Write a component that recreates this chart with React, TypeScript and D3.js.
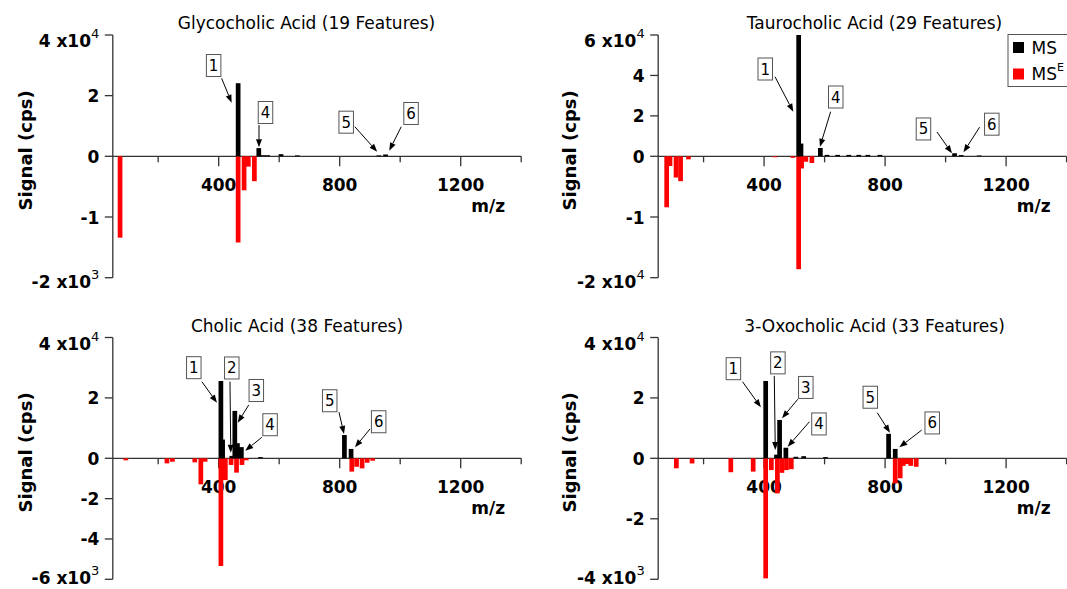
import React, { useRef, useEffect } from 'react';
import * as d3 from 'd3';

// Glycocholic acid: MS (up) and MS^E (down), m/z and signal in cps
const gcaMsMz = [464.3, 532.6, 548, 562, 606, 660, 929.6, 951.6];
const gcaMsSignal = [24100, 2700, 350, 350, 700, 300, 300, 600];
const gcaMseMz = [74, 464.3, 484, 498, 518];
const gcaMseSignal = [1340, 1420, 560, 170, 410];

// Taurocholic acid
const tcaMsMz = [514.3, 522, 586, 608, 643, 680, 713, 743, 783, 1029.6, 1051.6, 1111];
const tcaMsSignal = [60000, 6300, 4100, 700, 700, 700, 700, 700, 700, 1500, 600, 400];
const tcaMseMz = [78, 89, 109, 124, 150, 436, 495, 514.3, 524, 538, 558];
const tcaMseSignal = [8400, 1600, 3500, 4100, 500, 150, 250, 18600, 2000, 900, 1100];

// Cholic acid
const caMsMz = [407.3, 413, 443.3, 453.3, 462, 475, 538, 815.6, 837.6];
const caMsSignal = [25600, 6200, 800, 15700, 5000, 3700, 400, 7700, 3100];
const caMseMz = [93, 229, 247, 321, 341, 355, 407.3, 422, 441, 459, 477, 491, 840, 856, 874, 891, 909];
const caMseSignal = [100, 250, 170, 200, 1290, 170, 5340, 1080, 330, 710, 330, 100, 660, 420, 500, 220, 120];

// 3-Oxocholic acid
const ocaMsMz = [405.3, 441, 451.3, 472, 505, 531, 603, 811.6, 833.5];
const ocaMsSignal = [25600, 1200, 12700, 3500, 500, 700, 400, 8100, 3100];
const ocaMseMz = [110, 162, 290, 364, 405.3, 424, 444, 459, 474, 490, 833.5, 850, 860, 872, 885, 903];
const ocaMseSignal = [330, 170, 460, 440, 3970, 390, 1160, 480, 390, 360, 830, 660, 250, 190, 250, 280];

// axis ticks
const mzTicks = [200, 400, 600, 800, 1000, 1200, 1400];
const mzLabelled = [400, 800, 1200];

const gcaYTicks = [40000, 20000, 0, -1000, -2000];
const gcaYLabels = ['4 x10', '2', '0', '-1', '-2 x10'];
const gcaYSup = ['4', '', '', '', '3'];

const tcaYTicks = [60000, 40000, 20000, 0, -10000, -20000];
const tcaYLabels = ['6 x10', '4', '2', '0', '-1', '-2 x10'];
const tcaYSup = ['4', '', '', '', '', '4'];

const caYTicks = [40000, 20000, 0, -2000, -4000, -6000];
const caYLabels = ['4 x10', '2', '0', '-2', '-4', '-6 x10'];
const caYSup = ['4', '', '', '', '', '3'];

const ocaYTicks = [40000, 20000, 0, -2000, -4000];
const ocaYLabels = ['4 x10', '2', '0', '-2', '-4 x10'];
const ocaYSup = ['4', '', '', '', '3'];

// numbered callouts: offsets (px) from the top of the MS bar they mark
const gcaCallouts = [
  { n: '1', mz: 464.3, box: [-24.5, -17.7], from: [-16.5, -4.9], to: [-6.5, 19.5] },
  { n: '4', mz: 532.6, box: [6.7, -35.6], from: [0.2, -23.1], to: [0.2, -0.8] },
  { n: '5', mz: 929.6, box: [-32.7, -33.2], from: [-24.1, -28.7], to: [-1.7, -3.7] },
  { n: '6', mz: 951.6, box: [25.5, -41], from: [15.7, -27.8], to: [3.7, -3.8] },
];
const tcaCallouts = [
  { n: '1', mz: 514.3, box: [-33.4, 34], from: [-23.7, 41.7], to: [-5.4, 76.7] },
  { n: '4', mz: 586, box: [15.4, -51], from: [10.3, -36.3], to: [-0.4, -1.3] },
  { n: '5', mz: 1029.6, box: [-31.1, -24.3], from: [-17.6, -21.3], to: [-2.6, 0] },
  { n: '6', mz: 1051.6, box: [30.6, -30.9], from: [18.4, -27.9], to: [2.3, -2.8] },
];
const caCallouts = [
  { n: '1', mz: 407.3, box: [-27.1, -13.3], from: [-19, 0.7], to: [-3.9, 21.7] },
  { n: '2', mz: 443.3, box: [0, -87.9], from: [-1.8, -74.2], to: [-1, -3.2] },
  { n: '3', mz: 453.3, box: [21.5, -20.4], from: [13.9, -5.9], to: [2.9, 11.8] },
  { n: '4', mz: 475, box: [28.7, -22.4], from: [20.4, -9.8], to: [3.9, 3.6] },
  { n: '5', mz: 815.6, box: [-14.7, -34.3], from: [-5.4, -22.8], to: [-0.4, -1.1] },
  { n: '6', mz: 837.6, box: [27.6, -27.2], from: [18.9, -19.9], to: [3.9, -1.6] },
];
const ocaCallouts = [
  { n: '1', mz: 405.3, box: [-32.3, -12.3], from: [-23.2, 0.7], to: [-4.8, 26.3] },
  { n: '2', mz: 441, box: [1.4, -91.8], from: [-2.2, -78.7], to: [-1.2, -4.7] },
  { n: '3', mz: 451.3, box: [26.2, -32.5], from: [18.2, -20.7], to: [2.4, -1.7] },
  { n: '4', mz: 472, box: [33.1, -23.8], from: [23.6, -26], to: [1.8, -1] },
  { n: '5', mz: 811.6, box: [-18.3, -36.6], from: [-11.3, -21.1], to: [1.4, -1.1] },
  { n: '6', mz: 833.5, box: [37, -26], from: [26.5, -18.9], to: [4.1, -1.6] },
];

const FONT = 'DejaVu Sans';

const panels = [
  {
    title: 'Glycocholic Acid (19 Features)', titleX: 306.5, yLabelX: 25,
    xRange: [112.8, 521.2], top: 35, zero: 156.3, bottom: 277.7, posMax: 40000, negMin: -2000,
    msMz: gcaMsMz, msSig: gcaMsSignal, mseMz: gcaMseMz, mseSig: gcaMseSignal,
    yTicks: gcaYTicks, yLabels: gcaYLabels, ySup: gcaYSup, callouts: gcaCallouts,
  },
  {
    title: 'Taurocholic Acid (29 Features)', titleX: 874.5, yLabelX: 569,
    xRange: [658.2, 1066.6], top: 35, zero: 156.3, bottom: 277.7, posMax: 60000, negMin: -20000,
    msMz: tcaMsMz, msSig: tcaMsSignal, mseMz: tcaMseMz, mseSig: tcaMseSignal,
    yTicks: tcaYTicks, yLabels: tcaYLabels, ySup: tcaYSup, callouts: tcaCallouts,
  },
  {
    title: 'Cholic Acid (38 Features)', titleX: 297, yLabelX: 25,
    xRange: [112.8, 521.2], top: 337.5, zero: 458.3, bottom: 579.3, posMax: 40000, negMin: -6000,
    msMz: caMsMz, msSig: caMsSignal, mseMz: caMseMz, mseSig: caMseSignal,
    yTicks: caYTicks, yLabels: caYLabels, ySup: caYSup, callouts: caCallouts,
  },
  {
    title: '3-Oxocholic Acid (33 Features)', titleX: 874.6, yLabelX: 569,
    xRange: [658.2, 1066.6], top: 337.5, zero: 458.3, bottom: 579.3, posMax: 40000, negMin: -4000,
    msMz: ocaMsMz, msSig: ocaMsSignal, mseMz: ocaMseMz, mseSig: ocaMseSignal,
    yTicks: ocaYTicks, yLabels: ocaYLabels, ySup: ocaYSup, callouts: ocaCallouts,
  },
];

function drawPanel(svg: any, p: any) {
  const x = d3.scaleLinear().domain([50, 1400]).range(p.xRange);
  const y = d3.scaleLinear().domain([p.negMin, 0, p.posMax]).range([p.bottom, p.zero, p.top]);
  const g = svg.append('g');
  const x0 = x(50);
  const axisColor = '#333';

  g.append('text')
    .attr('x', p.titleX)
    .attr('y', p.top - 6)
    .attr('text-anchor', 'middle')
    .style('font-family', FONT)
    .style('font-size', '17px')
    .text(p.title);

  // y axis
  g.append('line')
    .attr('x1', x0).attr('x2', x0)
    .attr('y1', y(p.posMax)).attr('y2', y(p.negMin))
    .attr('stroke', axisColor).attr('stroke-width', 1.3);

  p.yTicks.forEach((t: number, i: number) => {
    g.append('line')
      .attr('x1', x0 - 8).attr('x2', x0)
      .attr('y1', y(t)).attr('y2', y(t))
      .attr('stroke', axisColor).attr('stroke-width', 1.3);
    let shift = i === 0 ? 12 : i === p.yTicks.length - 1 ? 10.5 : 6.5;
    // keep the lowest label inside the picture
    shift = Math.min(shift, 584 - y(t));
    const lbl = g.append('text')
      .attr('x', x0 - 13.5)
      .attr('y', y(t) + shift)
      .attr('text-anchor', 'end')
      .style('font-family', FONT)
      .style('font-size', '17px')
      .style('font-weight', 'bold');
    lbl.append('tspan').text(p.yLabels[i]);
    if (p.ySup[i]) {
      lbl.append('tspan')
        .attr('dy', -9)
        .style('font-size', '13px')
        .style('font-weight', 'normal')
        .text(p.ySup[i]);
    }
  });

  g.append('text')
    .attr('transform', `translate(${p.yLabelX},${(p.top + p.bottom) / 2 - 6}) rotate(-90)`)
    .attr('text-anchor', 'middle')
    .attr('dominant-baseline', 'central')
    .style('font-family', FONT)
    .style('font-size', '18px')
    .style('font-weight', 'bold')
    .text('Signal (cps)');

  // x axis
  g.append('line')
    .attr('x1', x0).attr('x2', x(1400))
    .attr('y1', y(0)).attr('y2', y(0))
    .attr('stroke', axisColor).attr('stroke-width', 1.3);

  mzTicks.forEach(t => {
    const major = mzLabelled.includes(t);
    g.append('line')
      .attr('x1', x(t)).attr('x2', x(t))
      .attr('y1', y(0)).attr('y2', y(0) + (major ? 10 : 6))
      .attr('stroke', axisColor).attr('stroke-width', 1.3);
    if (major) {
      g.append('text')
        .attr('x', x(t))
        .attr('y', y(0) + 34.5)
        .attr('text-anchor', 'middle')
        .style('font-family', FONT)
        .style('font-size', '17px')
        .style('font-weight', 'bold')
        .text(t);
    }
  });

  g.append('text')
    .attr('x', x(1400) - 16)
    .attr('y', y(0) + 55.5)
    .attr('text-anchor', 'end')
    .style('font-family', FONT)
    .style('font-size', '17px')
    .style('font-weight', 'bold')
    .text('m/z');

  const bw = 4.7;
  g.append('g')
    .selectAll('rect')
    .data(p.mseMz.map((m: number, i: number) => ({ m, v: p.mseSig[i] })))
    .enter()
    .append('rect')
    .attr('x', (d: any) => x(d.m) - bw / 2)
    .attr('y', y(0))
    .attr('width', bw)
    .attr('height', (d: any) => y(-d.v) - y(0))
    .attr('fill', '#ff0000');

  g.append('g')
    .selectAll('rect')
    .data(p.msMz.map((m: number, i: number) => ({ m, v: p.msSig[i] })))
    .enter()
    .append('rect')
    .attr('x', (d: any) => x(d.m) - bw / 2)
    .attr('y', (d: any) => y(d.v))
    .attr('width', bw)
    .attr('height', (d: any) => y(0) - y(d.v))
    .attr('fill', '#000');

  // callouts
  p.callouts.forEach((c: any) => {
    const sig = p.msSig[p.msMz.indexOf(c.mz)];
    const tx = x(c.mz);
    const ty = y(sig);
    const fx = tx + c.from[0], fy = ty + c.from[1];
    const ex = tx + c.to[0], ey = ty + c.to[1];
    const ang = Math.atan2(ey - fy, ex - fx);
    const len = 8, hw = 3;
    g.append('line')
      .attr('x1', fx).attr('y1', fy)
      .attr('x2', ex - Math.cos(ang) * len).attr('y2', ey - Math.sin(ang) * len)
      .attr('stroke', '#000').attr('stroke-width', 1);
    const bx = ex - Math.cos(ang) * len, by = ey - Math.sin(ang) * len;
    g.append('path')
      .attr('d', `M${ex},${ey}L${bx - Math.sin(ang) * hw},${by + Math.cos(ang) * hw}L${bx + Math.sin(ang) * hw},${by - Math.cos(ang) * hw}Z`)
      .attr('fill', '#000');
    const cx = tx + c.box[0], cy = ty + c.box[1];
    g.append('rect')
      .attr('x', cx - 7.25).attr('y', cy - 11)
      .attr('width', 14.5).attr('height', 22)
      .attr('fill', '#fff').attr('stroke', '#555').attr('stroke-width', 1);
    g.append('text')
      .attr('x', cx).attr('y', cy + 5.5)
      .attr('text-anchor', 'middle')
      .style('font-family', FONT)
      .style('font-size', '15px')
      .text(c.n);
  });
}

const App: React.FC = () => {
  const svgRef = useRef<SVGSVGElement | null>(null);

  useEffect(() => {
    const svg = d3.select(svgRef.current);
    svg.selectAll('*').remove();
    svg.append('rect').attr('width', 1067).attr('height', 589).attr('fill', '#fff');

    panels.forEach(p => drawPanel(svg, p));

    // legend (sits in the taurocholic panel, cut by the right edge)
    const legend = svg.append('g');
    legend.append('rect')
      .attr('x', 1008).attr('y', 34.5)
      .attr('width', 80).attr('height', 52)
      .attr('fill', '#fff').attr('stroke', '#555').attr('stroke-width', 1);
    const items = [
      { name: 'MS', sup: '', color: '#000' },
      { name: 'MS', sup: 'E', color: '#ff0000' },
    ];
    items.forEach((d, i) => {
      legend.append('rect')
        .attr('x', 1013).attr('y', 42 + i * 26.5)
        .attr('width', 11).attr('height', 11)
        .attr('fill', d.color);
      const t = legend.append('text')
        .attr('x', 1031.5).attr('y', 53.5 + i * 26)
        .style('font-family', FONT)
        .style('font-size', '17px');
      t.append('tspan').text(d.name);
      if (d.sup) t.append('tspan').attr('dy', -9).style('font-size', '11px').text(d.sup);
    });
  }, []);

  return (
    <svg
      ref={svgRef}
      width={1067}
      height={589}
      style={{ position: 'absolute', left: 0, top: 0 }}
    ></svg>
  );
};

export default App;
